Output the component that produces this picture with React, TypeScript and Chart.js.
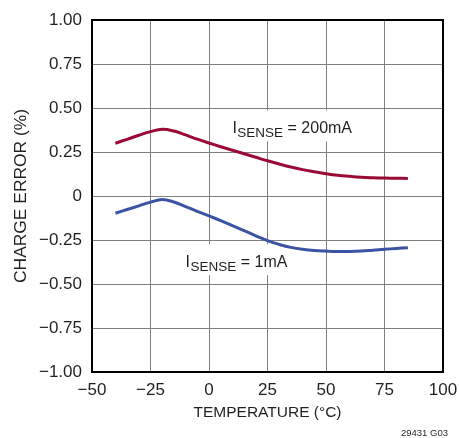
import React, { useEffect, useRef } from "react";
import { Chart, registerables } from "chart.js";

Chart.register(...registerables);

const temperatures = [-40, -35, -30, -25, -20, -15, -10, -5, 0, 5, 10, 15, 20, 25, 30, 35, 40, 45, 50, 55, 60, 65, 70, 75, 80, 85];
const error200mA = [0.3, 0.322, 0.345, 0.366, 0.379, 0.369, 0.347, 0.323, 0.301, 0.28, 0.26, 0.24, 0.22, 0.2, 0.182, 0.165, 0.15, 0.138, 0.127, 0.118, 0.112, 0.107, 0.104, 0.102, 0.101, 0.1];
const error1mA = [-0.098, -0.077, -0.056, -0.035, -0.02, -0.034, -0.06, -0.087, -0.113, -0.14, -0.168, -0.197, -0.226, -0.254, -0.275, -0.292, -0.303, -0.31, -0.313, -0.315, -0.315, -0.313, -0.308, -0.303, -0.298, -0.294];
const xTicks = [-50, -25, 0, 25, 50, 75, 100];
const yTicks = [-1, -0.75, -0.5, -0.25, 0, 0.25, 0.5, 0.75, 1];
const seriesLabels = ["200mA", "1mA"];
const labelAnchors = [
  { x: 10, y: 0.356 },
  { x: -10, y: -0.405 },
];

const FONT = "'Liberation Sans', Arial, sans-serif";
const TEXT = "#231f20";
const MINUS = "\u2212";

const fmt = (v: number, digits: number) => {
  const s = digits > 0 && v !== 0 ? Math.abs(v).toFixed(digits) : String(Math.abs(v));
  return v < 0 ? MINUS + s : s;
};

const annotationPlugin = {
  id: "annotations",
  beforeDatasetsDraw(chart: any) {
    const { ctx, chartArea } = chart;
    const xs = chart.scales.x;
    const ys = chart.scales.y;
    ctx.save();
    ctx.strokeStyle = "#000";
    ctx.lineWidth = 2;
    ctx.strokeRect(chartArea.left, chartArea.top, chartArea.right - chartArea.left, chartArea.bottom - chartArea.top);
    seriesLabels.forEach((lab, i) => {
      const px = xs.getPixelForValue(labelAnchors[i].x);
      const py = ys.getPixelForValue(labelAnchors[i].y);
      const mainFont = `16px ${FONT}`;
      const subFont = `13.5px ${FONT}`;
      ctx.font = mainFont;
      const wI = ctx.measureText("I").width;
      const wRest = ctx.measureText(" = " + lab).width;
      ctx.font = subFont;
      const wSub = ctx.measureText("SENSE").width;
      const total = wI + wSub + wRest;
      ctx.fillStyle = "#fff";
      ctx.fillRect(px - 6, py - 23, total + 12, 31);
      ctx.fillStyle = TEXT;
      ctx.textBaseline = "alphabetic";
      ctx.textAlign = "left";
      ctx.font = mainFont;
      ctx.fillText("I", px, py);
      ctx.font = subFont;
      ctx.fillText("SENSE", px + wI + 0.5, py + 4);
      ctx.font = mainFont;
      ctx.fillText(" = " + lab, px + wI + wSub + 0.5, py);
    });
    ctx.restore();
  },
  afterDraw(chart: any) {
    const { ctx } = chart;
    ctx.save();
    ctx.font = `9.5px ${FONT}`;
    ctx.fillStyle = TEXT;
    ctx.textAlign = "right";
    ctx.textBaseline = "alphabetic";
    ctx.fillText("29431 G03", 448, 436);
    ctx.restore();
  },
};

export default function App() {
  const canvasRef = useRef<HTMLCanvasElement | null>(null);

  useEffect(() => {
    if (!canvasRef.current) return;
    const chart = new Chart(canvasRef.current, {
      type: "line",
      data: {
        datasets: [
          {
            label: "ISENSE = 200mA",
            data: temperatures.map((t, i) => ({ x: t, y: error200mA[i] })),
            borderColor: "#9b0a35",
            borderWidth: 3,
            pointRadius: 0,
            tension: 0.4,
            fill: false,
          },
          {
            label: "ISENSE = 1mA",
            data: temperatures.map((t, i) => ({ x: t, y: error1mA[i] })),
            borderColor: "#3a54a3",
            borderWidth: 3,
            pointRadius: 0,
            tension: 0.4,
            fill: false,
          },
        ],
      },
      plugins: [annotationPlugin],
      options: {
        animation: false,
        responsive: false,
        maintainAspectRatio: false,
        devicePixelRatio: 1,
        layout: { padding: { left: 0, right: 16, top: 20, bottom: 0 } },
        plugins: {
          legend: { display: false },
          tooltip: { enabled: false },
        },
        scales: {
          x: {
            type: "linear",
            min: xTicks[0],
            max: xTicks[xTicks.length - 1],
            afterBuildTicks: (scale: any) => {
              scale.ticks = xTicks.map((v) => ({ value: v }));
            },
            afterFit: (scale: any) => {
              scale.height = 66;
              scale.paddingLeft = 0;
              scale.paddingRight = 0;
            },
            grid: { color: "#808080", lineWidth: 1, drawTicks: false },
            border: { display: false },
            ticks: {
              padding: 8,
              color: TEXT,
              font: { family: FONT, size: 17 },
              callback: (v: any) => fmt(Number(v), 0),
              maxRotation: 0,
              autoSkip: false,
            },
            title: {
              display: true,
              text: "TEMPERATURE (°C)",
              color: TEXT,
              font: { family: FONT, size: 15.5 },
              padding: { top: 0, bottom: 16 },
            },
          },
          y: {
            type: "linear",
            min: yTicks[0],
            max: yTicks[yTicks.length - 1],
            afterBuildTicks: (scale: any) => {
              scale.ticks = yTicks.map((v) => ({ value: v }));
            },
            afterFit: (scale: any) => {
              scale.width = 92;
              scale.paddingTop = 0;
              scale.paddingBottom = 0;
            },
            grid: { color: "#808080", lineWidth: 1, drawTicks: false },
            border: { display: false },
            ticks: {
              padding: 10,
              color: TEXT,
              font: { family: FONT, size: 17 },
              callback: (v: any) => fmt(Number(v), 2),
              autoSkip: false,
            },
            title: {
              display: true,
              text: "CHARGE ERROR (%)",
              color: TEXT,
              font: { family: FONT, size: 17.4 },
              padding: { top: 11, bottom: 0 },
            },
          },
        },
      },
    } as any);
    return () => chart.destroy();
  }, []);

  return (
    <div style={{ position: "fixed", left: 0, top: 0, width: 459, height: 438, background: "#fff" }}>
      <canvas ref={canvasRef} width={459} height={438} style={{ width: 459, height: 438, display: "block" }} />
    </div>
  );
}
